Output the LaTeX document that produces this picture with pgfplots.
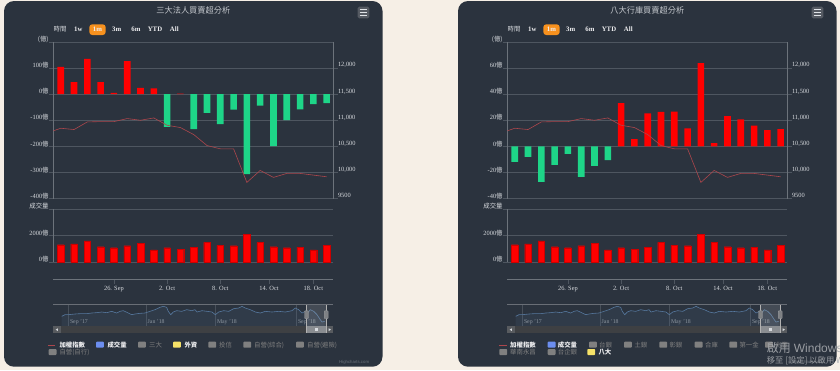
\documentclass[border=0pt]{standalone}
\usepackage{pgfplots}
\usepackage{pgfplotstable}
\pgfplotsset{compat=1.18}
\usepackage{fontspec}
\setmainfont{Liberation Serif}
\newfontfamily\cjk{Noto Sans CJK TC}
\newfontfamily\sansf{Liberation Sans}
\newcommand\yi{{\cjk 億}}
\definecolor{bgc}{RGB}{246,239,230}
\definecolor{panel}{RGB}{43,51,62}
\definecolor{grid}{RGB}{78,86,96}
\definecolor{axln}{RGB}{108,115,123}
\definecolor{lbl}{RGB}{215,218,222}
\definecolor{ttl}{RGB}{196,200,205}
\definecolor{upred}{RGB}{255,0,0}
\definecolor{dngreen}{RGB}{30,213,136}
\definecolor{idxc}{RGB}{172,70,76}
\definecolor{navln}{RGB}{86,120,158}
\definecolor{navgrid}{RGB}{72,80,90}
\definecolor{navtxt}{RGB}{150,155,160}
\definecolor{navtop}{RGB}{105,110,118}
\definecolor{inact}{RGB}{128,128,128}
\definecolor{legon}{RGB}{238,238,240}
\definecolor{volblue}{RGB}{108,142,240}
\definecolor{yel}{RGB}{246,226,104}
\definecolor{orng}{RGB}{247,145,30}
\definecolor{menubg}{RGB}{85,90,98}
\definecolor{menuln}{RGB}{225,228,232}
\definecolor{sctrack}{RGB}{62,64,67}
\definecolor{scbtn}{RGB}{88,91,95}
\definecolor{scthumb}{RGB}{138,141,145}
\definecolor{handle}{RGB}{125,128,132}
\definecolor{wm}{RGB}{165,168,172}
\colorlet{selln}{gray!60!white}

\pgfplotstableread{
i v
0 105
1 46
2 135
3 46
4 5
5 127
6 24
7 22
8 -125
9 2
10 -134
11 -71
12 -114
13 -59
14 -306
15 -44
16 -199
17 -99
18 -58
19 -38
20 -34
}\tblA

\pgfplotstableread{
i v
0 -11.8
1 -7.9
2 -27.2
3 -14.1
4 -5.6
5 -23.3
6 -14.9
7 -10.5
8 33.1
9 5.6
10 25.4
11 26.4
12 26.7
13 13.8
14 63.8
15 2.6
16 23.3
17 20.8
18 15.9
19 12.6
20 13.3
}\tblB

\pgfplotstableread{
i v
-1 10760
0 10849
1 10824
2 10970
3 10976
4 10976
5 11034
6 11002
7 11046
8 10906
9 10862
10 10728
11 10518
12 10455
13 10455
14 9812
15 10041
16 9908
17 9984
18 9984
19 9952
20 9920
}\tblIdx

\pgfplotstableread{
i v
0 1308
1 1359
2 1590
3 1154
4 1077
5 1231
6 1410
7 923
8 1077
9 974
10 1103
11 1487
12 1256
13 1231
14 2077
15 1462
16 1154
17 1077
18 1128
19 923
20 1256
}\tblVol

\pgfplotstableread{
x v
61.7 10293
65 10451
68.3 10451
75 10515
80 10546
86.7 10546
91.7 10610
96.7 10641
101.7 10705
106.7 10641
111.7 10769
116.7 10610
120 10769
123.3 10832
128.3 10610
131.7 10451
135 10515
140 10578
145 10610
150 10769
155 10927
160 11150
163.3 11245
166.7 11150
168.3 10769
170.7 10451
173.3 10705
176.7 10832
181.7 10769
186.7 10927
191.7 10832
195 10927
197 10705
202 10832
207 10769
212 10705
215.3 10451
218.7 10705
223.7 10832
228.7 10769
233.7 11022
238.7 11086
242 11245
245.3 11086
250.3 10927
255.3 10705
260.3 10610
265.3 10769
272 10705
278.7 10769
285.3 10705
292 10832
295.3 11086
298.7 10927
302 10610
305.3 10769
307 10515
310.3 10927
313.7 10769
317 10451
320.3 9975
322 9753
324.7 9816
}\tblNav

\pgfplotsset{base/.style={scale only axis, anchor=north west, xmin=-0.56, xmax=20.5,
  scaled ticks=false, tick align=outside, major tick length=4.5pt,
  tick style={draw=grid, line width=0.6pt},
  y axis line style={-, draw=axln, line width=0.7pt},
  grid style={draw=grid, line width=0.6pt},
  ticklabel style={font=\fontsize{6.4}{7}\selectfont, text=lbl, inner sep=0pt},
  yticklabel style={yshift=2.8pt}}}

\tikzset{lgon/.style={anchor=west, inner sep=0pt, text=legon, font=\cjk\bfseries\fontsize{6.4}{7}\selectfont},
 lgoff/.style={anchor=west, inner sep=0pt, text=inact, font=\cjk\fontsize{6.4}{7}\selectfont}}
\newcommand\legsq[3]{\fill[#1, rounded corners=0.8pt] (#2,#3-3.3) rectangle (#2+7.8,#3+2.7);}

\newcommand\panelbg[2]{%
\begin{scope}[x=1pt,y=-1pt,shift={(#1pt,0pt)}]
  \fill[panel, rounded corners=10pt] (4,1) rectangle (382.5,366.7);
  \node[font=\cjk\fontsize{8.2}{9}\selectfont, text=ttl] at (193.3,10.7) {#2};
  \fill[menubg, rounded corners=1.5pt] (357.7,6.7) rectangle (369.3,18.3);
  \foreach \yy in {9.8,12.5,15.2} \draw[menuln, line width=1.1pt] (359.6,\yy) -- (367.4,\yy);
  \node[font=\cjk\fontsize{6.4}{7}\selectfont, text=lbl] at (60,29.5) {時間};
  \fill[orng, rounded corners=3pt] (89.3,24.3) rectangle (105.7,35);
  \foreach \xx/\lab in {78.3/1w,97.5/1m,116.7/3m,136/6m,155/YTD,174.3/All}
    \node[font=\bfseries\fontsize{6.8}{7}\selectfont, text=legon] at (\xx,29.5) {\lab};
  \foreach \xx/\lab in {68.3/Sep '17,146/Jan '18,215.3/May '18,296.3/Sep '18} {
    \draw[navgrid, line width=0.6pt] (\xx,304.7) -- (\xx,326.3);
    \node[anchor=west, font=\fontsize{5.8}{6}\selectfont, text=navtxt, inner sep=0pt] at (\xx+1.5,322) {\lab};
  }
  \node[anchor=east, inner sep=0pt, text=navgrid!80!white, font=\sansf\fontsize{4.3}{5}\selectfont] at (369.3,362) {Highcharts.com};
\end{scope}}

\newcommand\mainaxes[6]{%
\begin{axis}[base, at={(#1pt+53.3pt,-42pt)}, width=280pt, height=156.7pt,
  axis x line=none, ymin=#3, ymax=#4, ytick={#5}, yticklabels={#6},
  axis y line*=left, ymajorgrids]
\addplot[ybar, bar width=6.6pt, bar shift=0pt, fill=upred, draw=none, restrict y to domain=0:1000] table[x=i,y=v]{#2};
\addplot[ybar, bar width=6.6pt, bar shift=0pt, fill=dngreen, draw=none, restrict y to domain=-1000:0] table[x=i,y=v]{#2};
\end{axis}
\begin{axis}[base, at={(#1pt+53.3pt,-42pt)}, width=280pt, height=156.7pt,
  axis x line=none, ymin=9500, ymax=12500, ytick={9500,10000,10500,11000,11500,12000},
  yticklabels={9500,{10,000},{10,500},{11,000},{11,500},{12,000}},
  axis y line*=right]
\addplot[idxc, line width=0.6pt, mark=none] table[x=i,y=v]{\tblIdx};
\end{axis}}

\newcommand\volaxis[1]{%
\begin{axis}[base, at={(#1pt+53.3pt,-209pt)}, width=280pt, height=70.7pt, clip=false,
  ymin=-1336, ymax=4000, ytick={0,2000,4000}, yticklabels={0\yi,2000\yi,{\cjk 成交量}},
  axis y line*=left, y axis line style={draw=none}, ymajorgrids,
  axis x line*=bottom, x axis line style={-, draw=axln, line width=0.7pt},
  xtick={4,8,12,15.667,19}, xticklabels={26. Sep,2. Oct,8. Oct,14. Oct,18. Oct},
  xticklabel style={yshift=-1.5pt}]
\addplot[ybar, bar width=6.6pt, bar shift=0pt, fill=upred, draw=upred!80!black, line width=0.3pt] table[x=i,y=v]{\tblVol};
\draw[axln, line width=0.7pt] (axis cs:-0.56,0) -- (axis cs:-0.56,4000);
\end{axis}}

\newcommand\navaxis[1]{%
\begin{axis}[scale only axis, anchor=north west, at={(#1pt+53.3pt,-304.7pt)}, width=280pt, height=21.6pt,
  xmin=53.3, xmax=333.3, ymin=9344, ymax=11400, axis lines=none, ticks=none]
\addplot[draw=none, fill=navln, fill opacity=0.12] table[x=x,y=v]{\tblNav} \closedcycle;
\addplot[navln, line width=0.6pt, mark=none] table[x=x,y=v]{\tblNav};
\end{axis}}

\newcommand\navover[1]{%
\begin{scope}[x=1pt,y=-1pt,shift={(#1pt,0pt)}]
  \draw[navtop, line width=1.4pt] (53.3,304.7) -- (333.3,304.7);
  \fill[sctrack] (53.3,326.3) rectangle (333.3,333);
  \fill[scbtn] (53.3,326.3) rectangle (60.7,333);
  \fill[scbtn] (326.3,326.3) rectangle (333.3,333);
  \fill[lbl] (55.6,329.65) -- (57.9,328.3) -- (57.9,331) -- cycle;
  \fill[lbl] (331,329.65) -- (328.7,328.3) -- (328.7,331) -- cycle;
  \fill[white, fill opacity=0.12] (306.3,305.4) rectangle (326.3,326.3);
  \fill[scthumb] (306.3,326.3) rectangle (326.3,333);
  \foreach \xx in {315.4,316.3,317.2} \draw[lbl, line width=0.35pt] (\xx,328.3) -- (\xx,331);
  \draw[selln, line width=0.6pt] (306.3,304.7) -- (306.3,333) (326.3,304.7) -- (326.3,333);
  \foreach \xx in {306.5,326.2} {
    \filldraw[fill=handle, draw=lbl!70!black, line width=0.4pt, rounded corners=0.8pt] (\xx-2,310.7) rectangle (\xx+2,318.7);
    \draw[lbl!60!black, line width=0.35pt] (\xx-0.6,312.7) -- (\xx-0.6,316.7) (\xx+0.6,312.7) -- (\xx+0.6,316.7);
  }
\end{scope}}

\begin{document}
\begin{tikzpicture}
\useasboundingbox (0pt,0pt) rectangle (840pt,-370pt);
\fill[bgc] (0pt,0pt) rectangle (840pt,-370pt);
% ---------- left panel
\panelbg{0}{三大法人買賣超分析}
\mainaxes{0}{\tblA}{-400}{200}{-400,-300,...,200}{-400\yi,-300\yi,-200\yi,-100\yi,0\yi,100\yi,{\cjk (億)}}
\volaxis{0}
\navaxis{0}
\navover{0}
\begin{scope}[x=1pt,y=-1pt]
  \draw[idxc, line width=0.8pt] (48.3,345) -- (55,345);
  \node[lgon] at (59.3,345) {加權指數};
  \legsq{volblue}{96}{345} \node[lgon] at (107.3,345) {成交量};
  \legsq{inact}{138}{345} \node[lgoff] at (149,345) {三大};
  \legsq{yel}{173}{345} \node[lgon] at (184.3,345) {外資};
  \legsq{inact}{208.3}{345} \node[lgoff] at (219,345) {投信};
  \legsq{inact}{243.3}{345} \node[lgoff] at (254,345) {自營(綜合)};
  \legsq{inact}{296}{345} \node[lgoff] at (307,345) {自營(避險)};
  \legsq{inact}{48.7}{352.3} \node[lgoff] at (59.3,352.3) {自營(自行)};
\end{scope}
% ---------- right panel
\panelbg{454}{八大行庫買賣超分析}
\mainaxes{454}{\tblB}{-40}{80}{-40,-20,...,80}{-40\yi,-20\yi,0\yi,20\yi,40\yi,60\yi,{\cjk (億)}}
\volaxis{454}
\navaxis{454}
\navover{454}
\begin{scope}[x=1pt,y=-1pt,shift={(454pt,0pt)}]
  \draw[idxc, line width=0.8pt] (45.3,345) -- (53.3,345);
  \node[lgon] at (56,345) {加權指數};
  \legsq{volblue}{93.7}{345} \node[lgon] at (103.7,345) {成交量};
  \legsq{inact}{135}{345} \node[lgoff] at (145,345) {台銀};
  \legsq{inact}{170}{345} \node[lgoff] at (180.3,345) {土銀};
  \legsq{inact}{205.3}{345} \node[lgoff] at (215.3,345) {彰銀};
  \legsq{inact}{240.7}{345} \node[lgoff] at (251,345) {合庫};
  \legsq{inact}{275.3}{345} \node[lgoff] at (285.3,345) {第一金};
  \legsq{inact}{311}{345} \node[lgoff] at (321,345) {兆豐};
  \legsq{inact}{45.3}{352.3} \node[lgoff] at (56,352.3) {華南永昌};
  \legsq{inact}{93.7}{352.3} \node[lgoff] at (103.7,352.3) {台企銀};
  \legsq{yel}{133.3}{352.3} \node[lgon] at (144.3,352.3) {八大};
\end{scope}
% ---------- watermark (present in the reference screenshot)
\begin{scope}[x=1pt,y=-1pt]
  \clip (0,0) rectangle (840,370);
  \node[anchor=west, inner sep=0pt, text=wm, text opacity=0.9, font=\fontsize{12}{13}\selectfont] at (766.7,347.5) {{\cjk 啟用} {\sansf Windows}};
  \node[anchor=west, inner sep=0pt, text=wm, text opacity=0.9, font=\cjk\fontsize{8.3}{9}\selectfont] at (766.7,360.5) {移至 [設定] 以啟用 Windows。};
\end{scope}
\end{tikzpicture}
\end{document}
